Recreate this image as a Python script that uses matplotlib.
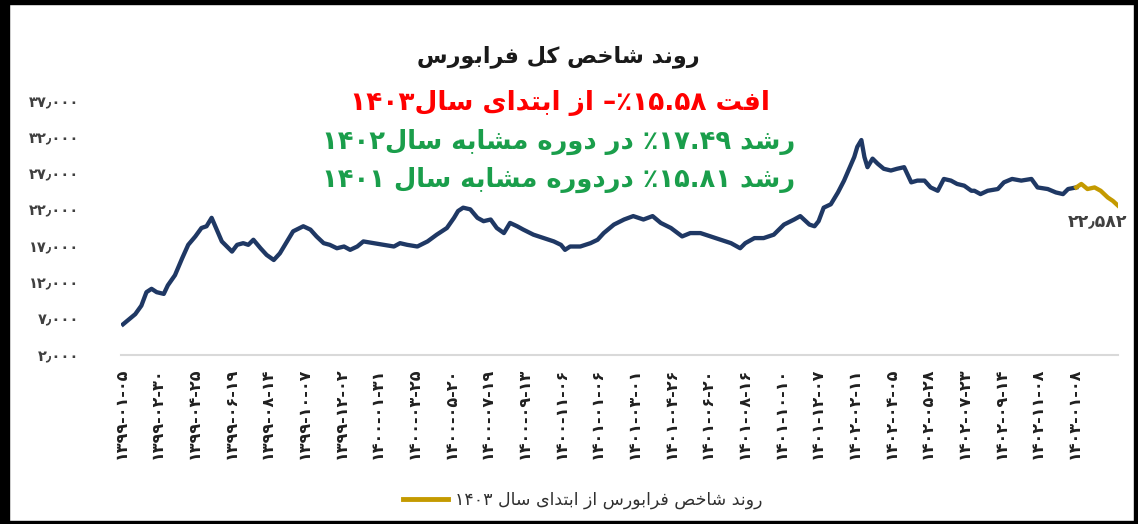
import re
import matplotlib
matplotlib.use("Agg")
import matplotlib.pyplot as plt
from matplotlib.patches import Rectangle

plt.rcParams['font.family'] = ['DejaVu Sans']

# trading-day index and index value
days = [2, 14, 20, 25, 30, 35, 42, 46, 53, 60, 66, 73, 79, 84, 89, 94, 99, 104, 109, 114,
        120, 125, 130, 137, 143, 150, 156, 163, 169, 179, 186, 192, 199, 205, 212, 219, 225,
        232, 238, 248, 258, 268, 274, 281, 291, 301, 310, 320, 327, 331, 336, 343, 350, 356,
        363, 369, 376, 382, 389, 395, 405, 415, 425, 432, 436, 441, 451, 461, 468, 474, 484,
        494, 503, 513, 522, 530, 540, 551, 559, 569, 579, 589, 599, 608, 613, 622, 631, 641,
        651, 661, 667, 676, 681, 685, 690, 697, 704, 710, 715, 720, 723, 727, 730, 733, 738,
        743, 749, 756, 762, 769, 776, 782, 789, 795, 802, 808, 815, 821, 828, 835, 838, 844,
        851, 861, 867, 875, 884, 894, 900, 910, 918, 925, 930, 938]
index_vals = [6230, 7630, 8800, 10660, 11120, 10660, 10420, 11600, 13000, 15310, 17180, 18340,
              19500, 19740, 20900, 19280, 17650, 16950, 16250, 17180, 17410, 17180, 17880,
              16710, 15790, 15090, 16010, 17650, 19040, 19740, 19280, 18340, 17410, 17180,
              16710, 16950, 16490, 16950, 17650, 17410, 17180, 16950, 17410, 17180, 16950,
              17650, 18580, 19500, 20900, 21840, 22300, 22070, 20900, 20440, 20670, 19500,
              18800, 20200, 19740, 19280, 18580, 18110, 17650, 17180, 16490, 16950, 16950,
              17410, 17880, 18800, 19970, 20670, 21140, 20670, 21140, 20200, 19500, 18340,
              18800, 18800, 18340, 17880, 17410, 16710, 17410, 18110, 18110, 18580, 19970,
              20670, 21140, 19970, 19740, 20440, 22300, 22770, 24400, 26030, 27660, 29280,
              30680, 31620, 29280, 27880, 29060, 28360, 27660, 27420, 27660, 27880, 25790,
              26030, 26030, 25090, 24630, 26260, 26030, 25570, 25330, 24630, 24630, 24170,
              24630, 24870, 25790, 26260, 26030, 26260, 25090, 24870, 24400, 24170, 24870,
              25090]

# since start of 1403
days_1403 = [938, 943, 949, 956, 962, 969, 974, 979]
vals_1403 = [25090, 25570, 24870, 25090, 24630, 23700, 23230, 22582]

tick_days = [36 * k for k in range(27)]
tick_dates = ['1399-01-05', '1399-02-30', '1399-04-25', '1399-06-19', '1399-08-14',
              '1399-10-07', '1399-12-02', '1400-01-31', '1400-03-25', '1400-05-20',
              '1400-07-19', '1400-09-13', '1400-11-06', '1401-01-06', '1401-03-01',
              '1401-04-26', '1401-06-20', '1401-08-16', '1401-10-10', '1401-12-07',
              '1402-02-11', '1402-04-05', '1402-05-28', '1402-07-23', '1402-09-14',
              '1402-11-08', '1403-01-08']
y_ticks = [2000, 7000, 12000, 17000, 22000, 27000, 32000, 37000]

title = 'روند شاخص کل فرابورس'
line1 = 'افت ۱۵.۵۸٪– از ابتدای سال۱۴۰۳'
line2 = 'رشد ۱۷.۴۹٪ در دوره مشابه سال۱۴۰۲'
line3 = 'رشد ۱۵.۸۱٪ دردوره مشابه سال ۱۴۰۱'
legend_label = 'روند شاخص فرابورس از ابتدای سال ۱۴۰۳'

NAVY = '#1f3864'
GOLD = '#c49a00'

# --- minimal persian shaping (matplotlib has no bidi / shaping) ---
FORMS = {
    'ا': ('\uFE8D', '\uFE8E', None, None), 'ب': ('\uFE8F', '\uFE90', '\uFE91', '\uFE92'),
    'ت': ('\uFE95', '\uFE96', '\uFE97', '\uFE98'), 'خ': ('\uFEA5', '\uFEA6', '\uFEA7', '\uFEA8'),
    'د': ('\uFEA9', '\uFEAA', None, None), 'ر': ('\uFEAD', '\uFEAE', None, None),
    'ز': ('\uFEAF', '\uFEB0', None, None), 'س': ('\uFEB1', '\uFEB2', '\uFEB3', '\uFEB4'),
    'ش': ('\uFEB5', '\uFEB6', '\uFEB7', '\uFEB8'), 'ص': ('\uFEB9', '\uFEBA', '\uFEBB', '\uFEBC'),
    'ف': ('\uFED1', '\uFED2', '\uFED3', '\uFED4'), 'ل': ('\uFEDD', '\uFEDE', '\uFEDF', '\uFEE0'),
    'م': ('\uFEE1', '\uFEE2', '\uFEE3', '\uFEE4'), 'ن': ('\uFEE5', '\uFEE6', '\uFEE7', '\uFEE8'),
    'ه': ('\uFEE9', '\uFEEA', '\uFEEB', '\uFEEC'), 'و': ('\uFEED', '\uFEEE', None, None),
    'ی': ('\uFBFC', '\uFBFD', '\uFBFE', '\uFBFF'), 'ک': ('\uFB8E', '\uFB8F', '\uFB90', '\uFB91'),
}


def fa(s):
    out = []
    for i, ch in enumerate(s):
        if ch not in FORMS:
            out.append(ch)
            continue
        prev = s[i - 1] if i > 0 else None
        nxt = s[i + 1] if i + 1 < len(s) else None
        jp = prev in FORMS and FORMS[prev][2] is not None
        jn = FORMS[ch][2] is not None and nxt in FORMS
        f = FORMS[ch]
        out.append(f[3] if jp and jn else f[1] if jp else f[2] if jn else f[0])
    rev = ''.join(out)[::-1]
    return re.sub(r'[۰-۹0-9.٫٬]+', lambda m: m.group()[::-1], rev)


def fa_num(s):
    return s.translate(str.maketrans('0123456789,', '۰۱۲۳۴۵۶۷۸۹٫'))


W, H = 1138, 524
fig = plt.figure(figsize=(W / 100, H / 100), dpi=100)
ax = fig.add_axes([121 / W, 1 - 355 / H, 997 / W, 254 / H])

ax.plot(days, index_vals, color=NAVY, lw=3.1, solid_joinstyle='round')
ax.plot(days_1403, vals_1403, color=GOLD, lw=3.1, solid_joinstyle='round',
        label=fa(legend_label))

ax.set_xlim(0, days_1403[-1])
ax.set_ylim(y_ticks[0], y_ticks[-1])
ax.set_yticks(y_ticks)
ax.set_yticklabels([fa_num(f'{v:,}') for v in y_ticks], fontsize=10.5,
                   color='#404040', fontweight='bold')
ax.set_xticks(tick_days)
ax.set_xticklabels([fa_num(d) for d in tick_dates], rotation=90, fontsize=11.5,
                   fontweight='bold', color='#202020')
ax.tick_params(axis='y', length=0, pad=30)
ax.tick_params(axis='x', length=0, pad=9)
for sp in ['left', 'right', 'top']:
    ax.spines[sp].set_visible(False)
ax.spines['bottom'].set_color('#d9d9d9')
ax.spines['bottom'].set_linewidth(1.5)

ax.annotate(fa_num(f'{vals_1403[-1]:,}'), (days_1403[-1], vals_1403[-1]),
            xytext=(-20, -16), textcoords='offset pixels', ha='center', va='center',
            fontsize=12.5, color='#404040', fontweight='bold')

fig.text(558 / W, 1 - 57 / H, fa(title), ha='center', va='center', fontsize=16,
         fontweight='bold', color='#1a1a1a')
fig.text(560 / W, 1 - 103 / H, fa(line1), ha='center', va='center', fontsize=19,
         fontweight='bold', color='#ff0000')
fig.text(559 / W, 1 - 142 / H, fa(line2), ha='center', va='center', fontsize=18.5,
         fontweight='bold', color='#1a9e4b')
fig.text(559 / W, 1 - 180 / H, fa(line3), ha='center', va='center', fontsize=18.5,
         fontweight='bold', color='#1a9e4b')

leg = fig.legend(loc='center', bbox_to_anchor=(583 / W, 1 - 500 / H), frameon=False,
                 fontsize=12.5, labelcolor='#303030', handlelength=2.6, handletextpad=0.4)
for ln in leg.get_lines():
    ln.set_linewidth(3.5)

# black frame around the picture
for x0, y0, w, h in [(0, 0, 9, H), (0, H - 4, W, 4), (W - 4, 0, 4, H), (0, 0, W, 3)]:
    fig.patches.append(Rectangle((x0 / W, y0 / H), w / W, h / H, transform=fig.transFigure,
                                 color='black', zorder=10))

fig.savefig('out.png', dpi=100)
